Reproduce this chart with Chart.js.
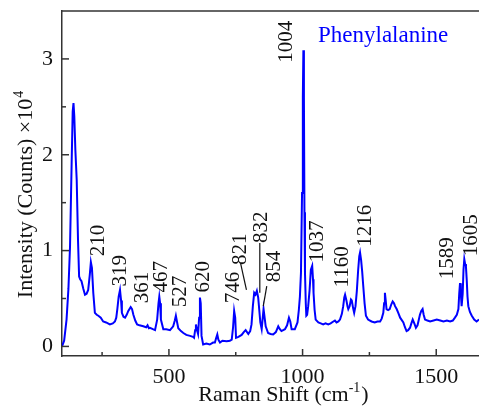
<!DOCTYPE html>
<html>
<head>
<meta charset="utf-8">
<script src="https://cdn.jsdelivr.net/npm/chart.js@4.4.1/dist/chart.umd.min.js"></script>
<style>
html,body{margin:0;padding:0;background:#fff;overflow:hidden;}
#wrap{width:479px;height:407px;}
</style>
</head>
<body>
<div id="wrap"><canvas id="c" width="479" height="407"></canvas></div>
<script>
// ---- data ----
const ramanShift = [100,108,117,124,130,136,140,143,146,150,155,160,164,168,173,180,186,192,198,204,208,212,217,223,230,236,245,254,265,279,290,298,303,307,312,317,321,324,330,336,342,348,357,362,367,374,381,390,404,415,420,425,429,440,448,456,461,464,467,470,479,490,504,516,522,526,530,535,545,554,565,579,590,594,598,601,605,609,613,616,619,622,628,640,653,665,672,677,681,685,691,700,716,728,735,740,744,748,751,760,772,780,787,797,804,809,814,819,824,829,834,838,842,847,851,854,858,862,871,880,890,900,909,915,921,934,942,949,954,959,971,981,986,990,994,998,1001,1003,1005,1007,1009,1012,1014,1017,1021,1026,1031,1036,1039,1041,1045,1049,1059,1068,1077,1086,1096,1105,1115,1121,1127,1134,1140,1147,1152,1156,1159,1164,1168,1171,1176,1181,1184,1189,1193,1198,1203,1208,1212,1215,1219,1223,1227,1232,1237,1245,1258,1270,1280,1290,1296,1302,1305,1308,1311,1314,1320,1326,1332,1337,1342,1346,1352,1358,1365,1377,1383,1389,1395,1402,1407,1412,1418,1424,1430,1435,1439,1444,1449,1453,1458,1467,1477,1490,1502,1515,1527,1540,1552,1562,1570,1577,1583,1586,1589,1592,1595,1599,1602,1605,1608,1611,1614,1617,1620,1626,1633,1642,1651,1660];
const intensity = [0.00,0.06,0.28,0.60,1.04,1.90,2.45,2.54,2.40,2.05,1.74,1.10,0.73,0.70,0.68,0.60,0.54,0.55,0.59,0.75,0.88,0.82,0.56,0.35,0.33,0.32,0.30,0.26,0.25,0.23,0.24,0.26,0.30,0.39,0.52,0.59,0.48,0.35,0.31,0.30,0.33,0.37,0.41,0.39,0.33,0.27,0.23,0.22,0.21,0.20,0.22,0.19,0.195,0.18,0.17,0.28,0.45,0.52,0.45,0.28,0.18,0.18,0.17,0.21,0.27,0.32,0.26,0.19,0.16,0.14,0.12,0.11,0.10,0.09,0.17,0.23,0.17,0.13,0.30,0.51,0.45,0.11,0.02,0.03,0.02,0.04,0.04,0.09,0.125,0.07,0.04,0.06,0.055,0.06,0.07,0.20,0.37,0.30,0.09,0.10,0.12,0.15,0.17,0.13,0.16,0.23,0.42,0.56,0.54,0.58,0.51,0.38,0.25,0.18,0.30,0.39,0.30,0.21,0.14,0.13,0.125,0.15,0.21,0.18,0.16,0.18,0.22,0.30,0.26,0.18,0.18,0.25,0.38,0.52,0.77,1.60,2.60,3.09,2.60,1.40,0.77,0.45,0.32,0.33,0.42,0.58,0.80,0.84,0.70,0.56,0.38,0.28,0.25,0.24,0.23,0.24,0.23,0.24,0.26,0.27,0.25,0.26,0.28,0.34,0.42,0.51,0.54,0.48,0.42,0.39,0.42,0.49,0.48,0.40,0.35,0.42,0.58,0.80,0.94,0.98,0.90,0.78,0.63,0.45,0.32,0.28,0.26,0.25,0.26,0.26,0.29,0.35,0.45,0.56,0.48,0.39,0.38,0.39,0.44,0.47,0.45,0.42,0.39,0.35,0.30,0.25,0.20,0.16,0.17,0.195,0.24,0.28,0.24,0.195,0.22,0.28,0.33,0.37,0.39,0.33,0.28,0.27,0.26,0.27,0.28,0.27,0.26,0.27,0.26,0.27,0.30,0.33,0.39,0.55,0.66,0.55,0.42,0.55,0.80,0.91,0.86,0.84,0.70,0.52,0.42,0.36,0.32,0.28,0.26,0.28];

const xTicks = [500, 1000, 1500];
const xMinorTicks = [250, 750, 1250];
const yTicks = [0, 1, 2, 3];
const yMinorTicks = [0.5, 1.5, 2.5];

// peak annotations: text, anchor (shift, intensity) of the label's bottom centre
const peakLabels = ['210','319','361','467','527','620','746','821','832','854','1004','1037','1160','1216','1589','1605'];
const peakLabelX = [232,313,397,466,537,623,736,762,842,888,936,1052,1142,1230,1535,1626];
const peakLabelY = [0.94,0.625,0.45,0.5625,0.41,0.5625,0.45,0.85,1.08,0.67,2.96,0.875,0.615,1.04,0.70,0.94];
// leader lines [x1,y1,x2,y2] in data units
const leaderLines = [[768,0.87,790,0.59],[840,1.08,840,0.56],[866,0.63,853,0.42]];

const serif = '"Liberation Serif", "Times New Roman", serif';

const overlay = {
  id: 'overlay',
  afterDraw(chart) {
    const {ctx, chartArea: a, scales: {x, y}} = chart;
    ctx.save();
    ctx.strokeStyle = '#333';
    ctx.lineWidth = 1.5;
    // top frame line
    ctx.beginPath(); ctx.moveTo(a.left, a.top); ctx.lineTo(a.right + 2, a.top); ctx.stroke();
    const seg = (x1, y1, x2, y2) => { ctx.beginPath(); ctx.moveTo(x1, y1); ctx.lineTo(x2, y2); ctx.stroke(); };
    // inward tick marks
    xTicks.forEach(v => { const p = x.getPixelForValue(v); seg(p, a.bottom, p, a.bottom - 7); });
    xMinorTicks.forEach(v => { const p = x.getPixelForValue(v); seg(p, a.bottom, p, a.bottom - 4); });
    yTicks.forEach(v => { const p = y.getPixelForValue(v); seg(a.left, p, a.left + 7, p); });
    yMinorTicks.forEach(v => { const p = y.getPixelForValue(v); seg(a.left, p, a.left + 4, p); });

    // leader lines
    ctx.strokeStyle = '#111'; ctx.lineWidth = 1.2;
    leaderLines.forEach(l => seg(x.getPixelForValue(l[0]), y.getPixelForValue(l[1]), x.getPixelForValue(l[2]), y.getPixelForValue(l[3])));

    // peak labels (rotated)
    ctx.fillStyle = '#111';
    ctx.font = '21px ' + serif;
    ctx.textAlign = 'left';
    ctx.textBaseline = 'alphabetic';
    peakLabels.forEach((t, i) => {
      const px = x.getPixelForValue(peakLabelX[i]);
      const py = y.getPixelForValue(peakLabelY[i]);
      ctx.save();
      ctx.translate(px + 7, py);
      ctx.rotate(-Math.PI / 2);
      ctx.fillText(t, 0, 0);
      ctx.restore();
    });

    // sample name
    ctx.fillStyle = '#0000ff';
    ctx.font = '23px ' + serif;
    ctx.fillText('Phenylalanine', 318, 42);

    // y title
    ctx.fillStyle = '#111';
    ctx.save();
    ctx.translate(32, 195);
    ctx.rotate(-Math.PI / 2);
    ctx.font = '22px ' + serif;
    const t1 = 'Intensity (Counts) \u00d710';
    const w1 = ctx.measureText(t1).width;
    ctx.font = '14px ' + serif;
    const w2 = ctx.measureText('4').width;
    ctx.font = '22px ' + serif;
    ctx.fillText(t1, -(w1 + w2) / 2, 0);
    ctx.font = '14px ' + serif;
    ctx.fillText('4', -(w1 + w2) / 2 + w1 + 1, -9);
    ctx.restore();

    // x title
    ctx.font = '22px ' + serif;
    const s1 = 'Raman Shift (cm', s3 = ')';
    const a1 = ctx.measureText(s1).width, a3 = ctx.measureText(s3).width;
    ctx.font = '14px ' + serif;
    const a2 = ctx.measureText('-1').width;
    const x0 = 283 - (a1 + a2 + a3) / 2;
    ctx.font = '22px ' + serif;
    ctx.fillText(s1, x0, 401);
    ctx.font = '14px ' + serif;
    ctx.fillText('-1', x0 + a1, 392);
    ctx.font = '22px ' + serif;
    ctx.fillText(s3, x0 + a1 + a2 + 1, 401);
    ctx.restore();
  }
};

new Chart(document.getElementById('c'), {
  type: 'line',
  data: {
    datasets: [{
      data: ramanShift.map((v, i) => ({x: v, y: intensity[i]})),
      borderColor: '#0000ff',
      borderWidth: 2,
      pointRadius: 0,
      tension: 0,
      fill: false
    }]
  },
  options: {
    responsive: false,
    animation: false,
    devicePixelRatio: 1,
    layout: {padding: {top: 11, right: 0, left: 0, bottom: 0}},
    plugins: {legend: {display: false}, tooltip: {enabled: false}},
    scales: {
      x: {
        type: 'linear', min: 100, max: 1660,
        grid: {display: false, drawTicks: false},
        border: {display: true, color: '#333', width: 1.5},
        afterBuildTicks: s => { s.ticks = xTicks.map(v => ({value: v})); },
        afterFit: s => { s.height = 51; s.paddingLeft = 0; s.paddingRight = 0; },
        ticks: {color: '#111', font: {family: serif, size: 22}, padding: 8, maxRotation: 0, autoSkip: false,
                callback: v => String(v)}
      },
      y: {
        min: -0.1, max: 3.5,
        grid: {display: false, drawTicks: false},
        border: {display: true, color: '#333', width: 1.5},
        afterBuildTicks: s => { s.ticks = yTicks.map(v => ({value: v})); },
        afterFit: s => { s.width = 62; s.paddingTop = 0; s.paddingBottom = 0; },
        ticks: {color: '#111', font: {family: serif, size: 22}, padding: 9, autoSkip: false,
                callback: v => String(v)}
      }
    }
  },
  plugins: [overlay]
});
</script>
</body>
</html>
